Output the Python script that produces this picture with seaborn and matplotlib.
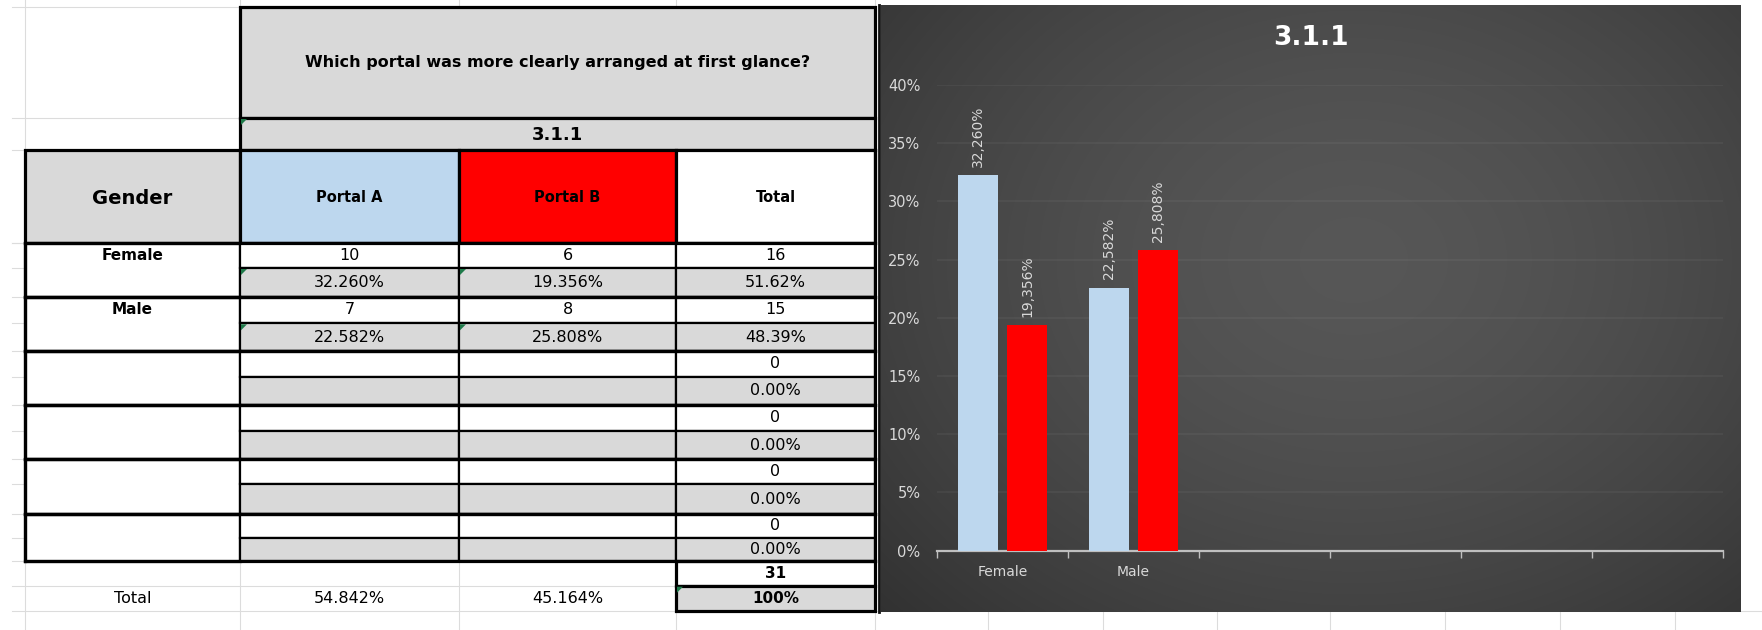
import numpy as np
import pandas as pd
import matplotlib
matplotlib.use("Agg")
import matplotlib.pyplot as plt
from matplotlib.patches import Rectangle, Polygon
from matplotlib.ticker import FuncFormatter, FixedLocator
import seaborn as sns

# ---------------- data ----------------
question = "Which portal was more clearly arranged at first glance?"
item_code = "3.1.1"
genders = ["Female", "Male"]
portals = ["Portal A", "Portal B"]
portal_a_counts = [10, 7]
portal_b_counts = [6, 8]
row_totals = [16, 15]
portal_a_pct = [32.260, 22.582]
portal_b_pct = [19.356, 25.808]
row_total_pct = [51.62, 48.39]
empty_groups = 4
grand_total = 31
column_total_pct = [54.842, 45.164]
n_category_slots = 6
y_ticks = [0, 5, 10, 15, 20, 25, 30, 35, 40]

# ---------------- figure & pixel canvas ----------------
W, H = 1762, 630
fig = plt.figure(figsize=(W / 100, H / 100), dpi=100)
fig.patch.set_facecolor("white")
bg = fig.add_axes([0, 0, 1, 1])
bg.set_xlim(0, W)
bg.set_ylim(H, 0)
bg.axis("off")

BLUE = "#bdd7ee"
RED = "#ff0000"
GREY = "#d9d9d9"
GRID = "#dcdcdc"
THICK = 2.3
MID = 1.6
FONT = "DejaVu Sans"

cols = [25, 240, 459, 676, 875]
title_y = (7, 118)
code_y = (118, 150)
head_y = (150, 243)
group_edges = [243, 296.7, 350.7, 405, 459.3, 513.7, 561]
group_mids = [268, 323.3, 376.7, 430.7, 484.3, 538.3]
sum_y = (561, 585.7)
pct_y = (585.7, 611)

# faint spreadsheet gridlines
for y in [7, 118, 150, 243] + group_mids + group_edges + [585.7, 611]:
    bg.plot([12, 875], [y, y], color=GRID, lw=0.8, zorder=1)
for x in cols:
    bg.plot([x, x], [0, 630], color=GRID, lw=0.8, zorder=1)
bg.plot([875, 1762], [611, 611], color=GRID, lw=0.8, zorder=1)
for x in [988, 1103, 1217, 1330, 1445, 1560, 1675]:
    bg.plot([x, x], [611, 630], color=GRID, lw=0.8, zorder=1)


def cell(x0, x1, y0, y1, fill, lw):
    bg.add_patch(Rectangle((x0, y0), x1 - x0, y1 - y0, facecolor=fill,
                           edgecolor="black", lw=lw, zorder=2))


def put(x, y, s, size=11.5, bold=False, color="black"):
    bg.text(x, y, s, ha="center", va="center", fontsize=size,
            fontweight="bold" if bold else "normal", color=color,
            family=FONT, zorder=4)


def flag(x, y, s=6):
    bg.add_patch(Polygon([(x + 1, y + 1), (x + 1 + s, y + 1), (x + 1, y + 1 + s)],
                         closed=True, color="#1f7a4a", lw=0, zorder=3))


def cx(i):
    return (cols[i] + cols[i + 1]) / 2


# title + code rows
cell(cols[1], cols[4], *title_y, GREY, THICK)
put((cols[1] + cols[4]) / 2, 63, question, size=11.5, bold=True)
cell(cols[1], cols[4], *code_y, GREY, THICK)
put((cols[1] + cols[4]) / 2, 135, item_code, size=13, bold=True)
flag(cols[1], code_y[0])

# header row
head_fills = [GREY, BLUE, RED, "white"]
head_texts = ["Gender", portals[0], portals[1], "Total"]
for i in range(4):
    cell(cols[i], cols[i + 1], *head_y, head_fills[i], THICK)
    put(cx(i), 198, head_texts[i], size=14 if i == 0 else 10.5, bold=True)

# body: two answered groups followed by empty ones
n_groups = len(genders) + empty_groups
for g in range(n_groups):
    top, bot, mid = group_edges[g], group_edges[g + 1], group_mids[g]
    cell(cols[0], cols[1], top, bot, "white", THICK)
    for i in range(1, 4):
        cell(cols[i], cols[i + 1], top, mid, "white", MID)
        cell(cols[i], cols[i + 1], mid, bot, GREY, MID)
    bg.plot([cols[0], cols[4]], [top, top], color="black", lw=THICK, zorder=3)
    bg.plot([cols[0], cols[4]], [bot, bot], color="black", lw=THICK, zorder=3)
    y_count = (top + mid) / 2
    y_pct = (mid + bot) / 2
    if g < len(genders):
        put(cx(0), y_count, genders[g], size=11, bold=True)
        put(cx(1), y_count, str(portal_a_counts[g]))
        put(cx(2), y_count, str(portal_b_counts[g]))
        put(cx(3), y_count, str(row_totals[g]))
        put(cx(1), y_pct, f"{portal_a_pct[g]:.3f}%")
        put(cx(2), y_pct, f"{portal_b_pct[g]:.3f}%")
        put(cx(3), y_pct, f"{row_total_pct[g]:.2f}%")
        flag(cols[1], mid)
        flag(cols[2], mid)
    else:
        put(cx(3), y_count, "0")
        put(cx(3), y_pct, "0.00%")
bg.plot([cols[0], cols[0]], [group_edges[0], group_edges[-1]], color="black", lw=THICK, zorder=3)
bg.plot([cols[4], cols[4]], [head_y[0], group_edges[-1]], color="black", lw=THICK, zorder=3)

# totals
cell(cols[3], cols[4], *sum_y, "white", THICK)
put(cx(3), sum(sum_y) / 2, str(grand_total), size=11, bold=True)
cell(cols[3], cols[4], *pct_y, GREY, THICK)
put(cx(3), sum(pct_y) / 2, "100%", size=11, bold=True)
flag(cols[3], pct_y[0])
put(cx(0), sum(pct_y) / 2, "Total")
put(cx(1), sum(pct_y) / 2, f"{column_total_pct[0]:.3f}%")
put(cx(2), sum(pct_y) / 2, f"{column_total_pct[1]:.3f}%")

# ---------------- chart panel ----------------
px0, px1, py0, py1 = 881, 1741, 5, 612
gx = np.linspace(0, 1, 430)
gy = np.linspace(0, 1, 300)
GX, GY = np.meshgrid(gx, gy)
dist = np.sqrt(((GX - 0.55) / 0.8) ** 2 + ((GY - 0.42) / 0.9) ** 2)
t = np.clip(dist, 0, 1) ** 1.6
shade = (0.34 * (1 - t) + 0.18 * t)
img = np.dstack([shade, shade, shade])
bg.imshow(img, extent=(px0, px1, py1, py0), aspect="auto", zorder=2,
          interpolation="bilinear")
bg.plot([px0 - 2, px0 - 2], [py0, py1], color="#111111", lw=2, zorder=3)
bg.text((px0 + px1) / 2, 38, item_code, ha="center", va="center",
        fontsize=19, fontweight="bold", color="white", family=FONT, zorder=4)

# plot area in pixel terms: x 937..1723, y 85 (40%) .. 550.7 (0%)
ax = fig.add_axes([937 / W, (H - 550.7) / H, (1723 - 937) / W, (550.7 - 85) / H])
ax.set_facecolor("none")

df = pd.DataFrame({
    "Gender": genders * 2,
    "Portal": [portals[0]] * len(genders) + [portals[1]] * len(genders),
    "Share": portal_a_pct + portal_b_pct,
})
sns.barplot(data=df, x="Gender", y="Share", hue="Portal", order=genders,
            hue_order=portals, palette=[BLUE, RED], saturation=1,
            width=0.76, gap=0.2, linewidth=0, legend=False, ax=ax, zorder=3)

LABEL = "#d9d9d9"
for cont in ax.containers:
    vals = cont.datavalues
    ax.bar_label(cont, labels=[f"{v:.3f}%".replace(".", ",") for v in vals],
                 rotation=90, padding=6, color=LABEL, fontsize=10, family=FONT)

ax.set_xlim(-0.5, n_category_slots - 0.5)
ax.set_ylim(0, 40)
ax.set_yticks(y_ticks)
ax.yaxis.set_major_formatter(FuncFormatter(lambda v, p: f"{v:.0f}%"))
ax.grid(False)
ax.yaxis.grid(True, color="white", alpha=0.05, lw=1.2)
ax.set_axisbelow(True)
ax.set_xlabel("")
ax.set_ylabel("")
for s in ["top", "right", "left"]:
    ax.spines[s].set_visible(False)
ax.spines["bottom"].set_color("#bfbfbf")
ax.spines["bottom"].set_linewidth(1.6)
ax.tick_params(axis="y", length=0, pad=12, labelcolor=LABEL, labelsize=10.5)
ax.tick_params(axis="x", which="major", length=0, pad=10, labelcolor=LABEL, labelsize=10)
ax.xaxis.set_minor_locator(FixedLocator(np.arange(-0.5, n_category_slots, 1.0)))
ax.tick_params(axis="x", which="minor", length=5, width=1, color="#bfbfbf", direction="out")
for lab in ax.get_xticklabels() + ax.get_yticklabels():
    lab.set_family(FONT)

fig.savefig("out.png", dpi=100, facecolor="white")
